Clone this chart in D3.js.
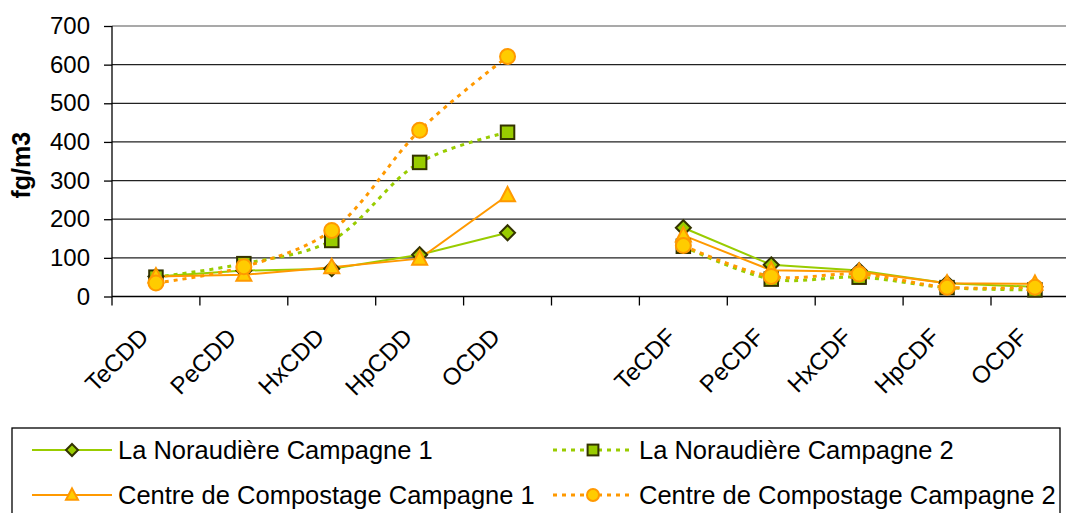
<!DOCTYPE html>
<html lang="fr">
<head>
<meta charset="UTF-8">
<title>fg/m3 par congénère</title>
<script src="https://d3js.org/d3.v7.min.js"></script>
<style>
  body { margin: 0; background: #fff; }
  svg { display: block; font-family: "Liberation Sans", Arial, sans-serif; }
</style>
</head>
<body>
<svg id="chart" width="1066" height="513"></svg>
<script>
// categories (the empty one is the gap between CDD and CDF)
const categories = ["TeCDD", "PeCDD", "HxCDD", "HpCDD", "OCDD", "", "TeCDF", "PeCDF", "HxCDF", "HpCDF", "OCDF"];
const yTicks = [0, 100, 200, 300, 400, 500, 600, 700];

// values (null = no data)
const norCamp1 = [52, 67, 72, 108, 165, null, 178, 82, 67, 34, 25];
const norCamp2 = [50, 85, 145, 347, 425, null, 130, 45, 50, 23, 17];
const cenCamp1 = [52, 56, 76, 98, 262, null, 158, 68, 64, 34, 33];
const cenCamp2 = [35, 77, 171, 430, 621, null, 132, 52, 58, 24, 24];

const series = [
  { name: "La Noraudière Campagne 1", values: norCamp1, color: "#99cc00", dash: null, smooth: false,
    marker: "diamond", fill: "#99cc00", stroke: "#333300" },
  { name: "La Noraudière Campagne 2", values: norCamp2, color: "#99cc00", dash: "4,5", smooth: true,
    marker: "square", fill: "#99cc00", stroke: "#333300" },
  { name: "Centre de Compostage Campagne 1", values: cenCamp1, color: "#ff9900", dash: null, smooth: false,
    marker: "triangle", fill: "#ffcc00", stroke: "#ff9900" },
  { name: "Centre de Compostage Campagne 2", values: cenCamp2, color: "#ff9900", dash: "4,5", smooth: true,
    marker: "circle", fill: "#ffcc00", stroke: "#ff9900" }
];

const svg = d3.select("#chart");
const plotLeft = 112, plotTop = 26, plotBottom = 296.5;
const slot = 87.9;
const plotRight = plotLeft + slot * categories.length;   // runs past the picture edge, as in the original

const x = d3.scaleBand()
  .domain(d3.range(categories.length))
  .range([plotLeft, plotRight]);

const y = d3.scaleLinear()
  .domain([0, 700])
  .range([plotBottom, plotTop]);

// gridlines
svg.append("g")
  .selectAll("line")
  .data(yTicks.filter(d => d > 0))
  .join("line")
  .attr("x1", plotLeft).attr("x2", 1066)
  .attr("y1", d => y(d)).attr("y2", d => y(d))
  .attr("stroke", d => d === 700 ? "#8c8c8c" : "#222")
  .attr("stroke-width", 1.3);

// y axis
const yAxis = svg.append("g")
  .attr("transform", `translate(${plotLeft},0)`)
  .call(d3.axisLeft(y).tickValues(yTicks).tickSize(8).tickPadding(14));
yAxis.selectAll("text").attr("font-size", 24).attr("font-family", "Liberation Sans, Arial").attr("fill", "#000");
yAxis.selectAll("line, path").attr("stroke", "#000").attr("stroke-width", 1.3);
yAxis.select(".domain").attr("d", `M0,${plotTop}V${plotBottom}`);

// x axis: ticks at slot boundaries
const xAxis = svg.append("g");
xAxis.append("line")
  .attr("x1", plotLeft).attr("x2", 1066)
  .attr("y1", plotBottom).attr("y2", plotBottom)
  .attr("stroke", "#000").attr("stroke-width", 1.5);
xAxis.selectAll(".xt")
  .data(d3.range(categories.length + 1))
  .join("line")
  .attr("class", "xt")
  .attr("x1", i => plotLeft + i * x.bandwidth())
  .attr("x2", i => plotLeft + i * x.bandwidth())
  .attr("y1", plotBottom).attr("y2", plotBottom + 9)
  .attr("stroke", "#000").attr("stroke-width", 1.3);

xAxis.selectAll(".xl")
  .data(categories)
  .join("text")
  .attr("class", "xl")
  .attr("transform", (d, i) => `translate(${x(i) + x.bandwidth() / 2 - 6},${plotBottom + 42}) rotate(-45)`)
  .attr("text-anchor", "end")
  .attr("font-size", 24)
  .text(d => d);

// y title
svg.append("text")
  .attr("transform", `translate(30,${(plotTop + plotBottom) / 2 + 4}) rotate(-90)`)
  .attr("text-anchor", "middle")
  .attr("font-size", 25)
  .attr("font-weight", "bold")
  .text("fg/m3");

const cx = i => x(i) + x.bandwidth() / 2;

function drawMarker(g, type, fill, stroke, px, py, s) {
  if (type === "diamond") {
    g.append("path").attr("d", `M${px},${py - s}L${px + s},${py}L${px},${py + s}L${px - s},${py}Z`)
      .attr("fill", fill).attr("stroke", stroke).attr("stroke-width", 2);
  } else if (type === "square") {
    g.append("rect").attr("x", px - s * 0.9).attr("y", py - s * 0.9).attr("width", s * 1.8).attr("height", s * 1.8)
      .attr("fill", fill).attr("stroke", stroke).attr("stroke-width", 2);
  } else if (type === "triangle") {
    g.append("path").attr("d", `M${px},${py - s * 1.1}L${px + s},${py + s * 0.8}L${px - s},${py + s * 0.8}Z`)
      .attr("fill", fill).attr("stroke", stroke).attr("stroke-width", 2);
  } else {
    g.append("circle").attr("cx", px).attr("cy", py).attr("r", s)
      .attr("fill", fill).attr("stroke", stroke).attr("stroke-width", 2);
  }
}

const plot = svg.append("g");
series.forEach(s => {
  const line = d3.line()
    .defined(d => d !== null)
    .x((d, i) => cx(i))
    .y(d => y(d))
    .curve(s.smooth ? d3.curveCatmullRom.alpha(0.5) : d3.curveLinear);
  plot.append("path")
    .datum(s.values)
    .attr("fill", "none")
    .attr("stroke", s.color)
    .attr("stroke-width", s.dash ? 3 : 2)
    .attr("stroke-dasharray", s.dash)
    .attr("d", line);
});
series.forEach(s => {
  const g = plot.append("g");
  s.values.forEach((v, i) => {
    if (v !== null) drawMarker(g, s.marker, s.fill, s.stroke, cx(i), y(v), 7.5);
  });
});

// legend
const legend = svg.append("g");
legend.append("rect")
  .attr("x", 12).attr("y", 428).attr("width", 1048).attr("height", 100)
  .attr("fill", "#fff").attr("stroke", "#000").attr("stroke-width", 1.3);

const cols = [32, 553];
const rows = [450, 495];
series.forEach((s, k) => {
  const lx = cols[k % 2], ly = rows[Math.floor(k / 2)];
  const g = legend.append("g");
  g.append("line")
    .attr("x1", lx).attr("x2", lx + 80)
    .attr("y1", ly).attr("y2", ly)
    .attr("stroke", s.color)
    .attr("stroke-width", s.dash ? 3 : 2)
    .attr("stroke-dasharray", s.dash);
  drawMarker(g, s.marker, s.fill, s.stroke, lx + 40, ly, 6);
  g.append("text")
    .attr("x", lx + 86).attr("y", ly + 9)
    .attr("font-size", 25.5)
    .text(s.name);
});
</script>
</body>
</html>
